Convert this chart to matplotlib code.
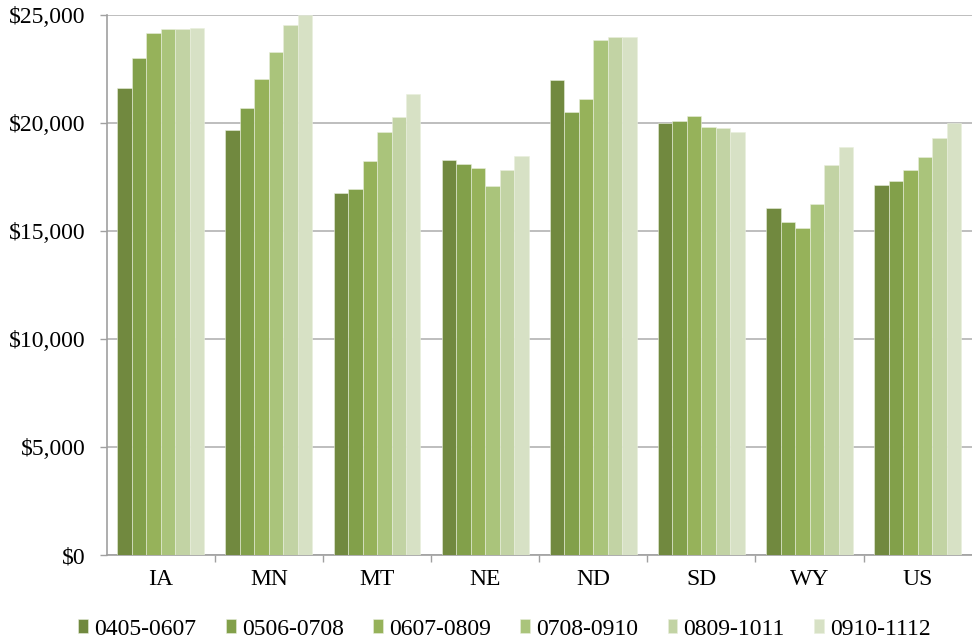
import numpy as np
import matplotlib.pyplot as plt
from matplotlib.ticker import FuncFormatter

# ---------- Data ----------
states = ["IA", "MN", "MT", "NE", "ND", "SD", "WY", "US"]
periods = ["0405-0607", "0506-0708", "0607-0809", "0708-0910", "0809-1011", "0910-1112"]

p0405 = [21600, 19680, 16770, 18270, 22000, 20010, 16050, 17130]
p0506 = [23000, 20710, 16930, 18120, 20500, 20080, 15420, 17300]
p0607 = [24150, 22050, 18250, 17900, 21130, 20340, 15150, 17810]
p0708 = [24340, 23300, 19570, 17070, 23830, 19830, 16240, 18430]
p0809 = [24340, 24550, 20290, 17840, 23980, 19780, 18060, 19310]
p0910 = [24390, 25000, 21330, 18470, 23980, 19570, 18890, 20010]
series = [p0405, p0506, p0607, p0708, p0809, p0910]

colors = ["#71893F", "#82A04A", "#96B25A", "#AAC47B", "#C2D3A4", "#D7E1C5"]

plt.rcParams['font.family'] = ['Liberation Serif', 'DejaVu Serif']

# ---------- Plot ----------
fig = plt.figure(figsize=(9.72, 6.41), dpi=100)
ax = fig.add_axes([0.1098, 0.134, 0.8899, 0.8426])

x = np.arange(len(states))
bw = 0.134
for i, (vals, c, lab) in enumerate(zip(series, colors, periods)):
    ax.bar(x + (i - 2.5) * bw, vals, width=bw, color=c, label=lab,
           edgecolor="#E9EFDD", linewidth=0.4, zorder=3)

ax.set_xlim(-0.5, len(states) - 0.5)
ax.set_ylim(0, 25000)
ax.set_yticks(np.arange(0, 25001, 5000))
ax.yaxis.set_major_formatter(FuncFormatter(lambda v, p: "${:,.0f}".format(v)))
ax.grid(axis="y", color="#B3B3B3", linewidth=1.2, zorder=0)

ax.set_xticks(x)
ax.set_xticklabels(states)
ax.set_xticks(np.arange(0.5, len(states) - 1, 1.0), minor=True)
ax.tick_params(axis="x", which="major", length=0, pad=10, labelsize=17)
ax.tick_params(axis="x", which="minor", length=5, color="#A0A0A0", width=1)
ax.tick_params(axis="y", length=5, color="#A0A0A0", width=1, labelsize=17, pad=10)

for s in ["top", "right"]:
    ax.spines[s].set_visible(False)
for s in ["left", "bottom"]:
    ax.spines[s].set_color("#A0A0A0")
    ax.spines[s].set_linewidth(1.2)

ax.legend(loc="upper center", bbox_to_anchor=(0.46, -0.1), ncol=6,
          frameon=False, fontsize=17, handlelength=0.42, handleheight=0.55,
          handletextpad=0.25, columnspacing=1.25, borderaxespad=0)

fig.savefig("out.png", dpi=100)
